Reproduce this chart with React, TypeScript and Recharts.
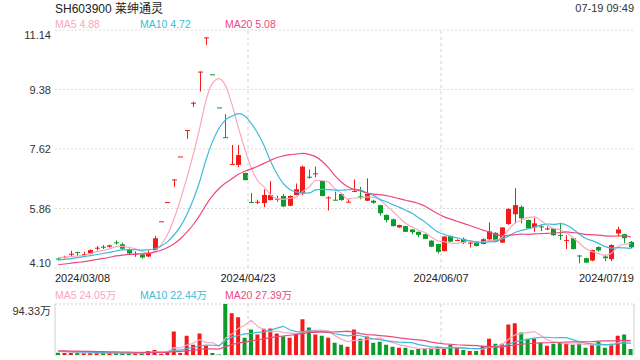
import React from 'react';
import {
  ComposedChart,
  Bar,
  Line,
  XAxis,
  YAxis,
  CartesianGrid,
  ReferenceLine,
  ReferenceArea,
  Cell,
} from 'recharts';

// trading days shown on the chart, by month
const marchDays = [8, 11, 12, 13, 14, 15, 18, 19, 20, 21, 22, 25, 26, 27, 28, 29];
const aprilDays = [1, 2, 3, 8, 9, 10, 11, 12, 15, 16, 17, 18, 19, 22, 23, 24, 25, 26, 29, 30];
const mayDays = [6, 7, 8, 9, 10, 13, 14, 15, 16, 17, 20, 21, 22, 23, 24, 27, 28, 29, 30, 31];
const juneDays = [3, 4, 5, 6, 7, 11, 12, 13, 14, 17, 18, 19, 20, 21, 24, 25, 26, 27, 28];
const julyDays = [1, 2, 3, 4, 5, 8, 9, 10, 11, 12, 15, 16, 17, 18, 19];

const openPrices = [
  4.38, 4.41, 4.5, 4.57, 4.49, 4.53, 4.68, 4.73, 4.73, 4.86,
  4.8, 4.66, 4.5, 4.5, 4.44, 4.63, 5.48, 6.05, 6.7, 7.4,
  8.16, 8.97, 9.89, 10.9, 9.83, 8.85, 7.97, 7.16, 7.15, 6.91,
  6.05, 6.04, 6.02, 6.11, 6.13, 6.23, 5.94, 6.26, 6.31, 6.8,
  6.88, 6.67, 6.18, 6.12, 6.29, 6.05, 6.36, 6.22, 6.09, 6.09,
  5.96, 5.67, 5.54, 5.3, 5.34, 5.24, 5.17, 5.1, 4.91, 4.81,
  4.6, 5.05, 4.92, 4.96, 4.84, 4.88, 4.81, 4.95, 5.14, 4.85,
  5.4, 5.69, 5.91, 5.52, 5.3, 5.33, 5.26, 5.27, 5.08, 4.92,
  4.98, 4.47, 4.39, 4.32, 4.72, 4.44, 4.36, 5.12, 5.1, 4.87,
];
const highPrices = [
  4.4, 4.46, 4.61, 4.58, 4.58, 4.65, 4.75, 4.78, 4.79, 4.92,
  4.85, 4.68, 4.59, 4.53, 4.62, 5.05, 5.48, 6.05, 6.72, 7.4,
  8.18, 9.02, 9.91, 10.92, 9.83, 8.85, 8.65, 7.74, 7.74, 6.92,
  6.32, 6.12, 6.43, 6.67, 6.24, 6.29, 6.25, 6.6, 7.13, 7.02,
  7.1, 6.68, 6.22, 6.36, 6.31, 6.15, 6.72, 6.5, 6.75, 6.12,
  5.97, 5.68, 5.56, 5.38, 5.35, 5.25, 5.18, 5.11, 4.92, 4.82,
  5.04, 5.06, 4.95, 5.0, 4.88, 4.89, 4.98, 5.45, 5.16, 5.31,
  5.86, 6.46, 5.95, 5.53, 5.59, 5.37, 5.33, 5.28, 5.44, 5.07,
  4.99, 4.48, 4.4, 4.64, 4.74, 4.5, 4.8, 5.32, 5.11, 4.9,
];
const lowPrices = [
  4.33, 4.38, 4.43, 4.45, 4.42, 4.5, 4.62, 4.66, 4.7, 4.79,
  4.64, 4.5, 4.43, 4.38, 4.42, 4.6, 5.48, 6.05, 6.5, 7.4,
  7.92, 8.86, 9.32, 10.7, 9.83, 8.85, 7.96, 7.16, 7.08, 6.69,
  6.03, 5.99, 5.9, 6.1, 6.06, 5.9, 5.93, 6.25, 6.26, 6.74,
  6.78, 6.22, 5.8, 6.1, 6.09, 6.05, 6.35, 6.13, 6.08, 6.0,
  5.65, 5.45, 5.33, 5.29, 5.16, 5.1, 5.01, 4.95, 4.72, 4.53,
  4.59, 4.87, 4.9, 4.81, 4.71, 4.74, 4.8, 4.93, 4.86, 4.84,
  5.38, 5.42, 5.42, 5.25, 5.17, 5.19, 5.22, 5.05, 4.93, 4.66,
  4.65, 4.24, 4.25, 4.3, 4.58, 4.3, 4.3, 5.03, 4.83, 4.68,
];
const closePrices = [
  4.35, 4.43, 4.52, 4.55, 4.51, 4.63, 4.7, 4.72, 4.77, 4.85,
  4.67, 4.53, 4.52, 4.41, 4.55, 4.98, 5.48, 6.05, 6.72, 7.4,
  8.18, 8.99, 9.91, 10.92, 9.83, 8.85, 7.96, 7.18, 7.44, 6.7,
  6.03, 6.06, 6.26, 6.26, 6.15, 5.92, 6.23, 6.43, 7.1, 6.78,
  6.9, 6.23, 6.19, 6.11, 6.11, 6.06, 6.38, 6.19, 6.29, 6.03,
  5.72, 5.52, 5.34, 5.37, 5.17, 5.16, 5.08, 4.96, 4.73, 4.58,
  5.03, 4.88, 4.93, 4.85, 4.85, 4.75, 4.95, 5.18, 4.88, 5.3,
  5.85, 5.96, 5.57, 5.27, 5.42, 5.32, 5.27, 5.07, 5.07, 4.93,
  4.66, 4.46, 4.26, 4.63, 4.62, 4.39, 4.78, 5.24, 4.98, 4.71,
];
// volume in 万
const volumes = [
  4.0, 3.6, 3.9, 3.5, 3.8, 4.2, 3.7, 3.9, 4.1, 3.6,
  4.3, 3.8, 4.0, 3.9, 7.5, 9.4, 2.5, 6.3, 43.4, 3.8,
  35.8, 18.9, 39.6, 17.0, 3.8, 0.8, 94.33, 77.3, 69.8, 32.1,
  47.2, 37.7, 48.4, 49.1, 39.6, 34.6, 32.1, 40.9, 66.0, 51.0,
  37.7, 35.8, 32.1, 22.6, 18.9, 15.1, 47.2, 30.2, 34.0, 22.6,
  24.5, 18.9, 15.1, 13.2, 13.2, 9.4, 11.3, 11.3, 13.2, 15.1,
  11.3, 18.9, 13.2, 9.4, 7.5, 7.5, 17.0, 30.2, 20.8, 20.8,
  56.6, 58.5, 41.5, 30.2, 30.2, 22.6, 17.0, 20.8, 22.6, 20.8,
  18.9, 20.8, 13.2, 18.9, 24.5, 13.2, 20.8, 35.8, 37.7, 11.3,
];
// sessions before the visible window (only feed the moving averages)
const priorCloses = [3.98, 4.02, 4.05, 4.08, 4.03, 4.06, 4.1, 4.07, 4.09, 4.12, 4.22, 4.25, 4.28, 4.24, 4.3, 4.38, 4.42, 4.45, 4.43];
const priorVolumes = [9.5, 8.8, 10.2, 7.9, 8.4, 9.1, 7.6, 8.2, 9.0, 7.4, 8.1, 7.7, 8.6, 7.2, 7.9, 6.8, 7.5, 6.9, 7.3];

const priceTicks = [4.1, 5.86, 7.62, 9.38, 11.14];
const volumeTicks = [0, 94.33];
const dividerDates = ['2024/04/23', '2024/06/07'];
const title = 'SH603900 莱绅通灵';
const stamp = '07-19 09:49';
const priceLegend = ['MA5 4.88', 'MA10 4.72', 'MA20 5.08'];
const volumeLegend = ['MA5 24.05万', 'MA10 22.44万', 'MA20 27.39万'];

const RED = '#f31a1a';
const GREEN = '#0a9b2a';
const MA_COLORS = ['#fba6bf', '#3cbcda', '#ec4a7e'];
const FONT = '"Liberation Sans", Arial, "Noto Sans CJK SC", sans-serif';
const PLOT_LEFT = 55;
const PLOT_RIGHT = 634;

const pad = (n: number) => (n < 10 ? '0' + n : String(n));
const dates = [
  ...marchDays.map((d) => `2024/03/${pad(d)}`),
  ...aprilDays.map((d) => `2024/04/${pad(d)}`),
  ...mayDays.map((d) => `2024/05/${pad(d)}`),
  ...juneDays.map((d) => `2024/06/${pad(d)}`),
  ...julyDays.map((d) => `2024/07/${pad(d)}`),
];
const shownDates = [dates[0], ...dividerDates, dates[dates.length - 1]];
const BAND = (PLOT_RIGHT - PLOT_LEFT) / dates.length;

const movingAvg = (history: number[], series: number[], n: number) => {
  const all = [...history, ...series];
  return series.map((_, i) => {
    const end = history.length + i + 1;
    const win = all.slice(Math.max(0, end - n), end);
    return win.reduce((a, b) => a + b, 0) / win.length;
  });
};

const ma5 = movingAvg(priorCloses, closePrices, 5);
const ma10 = movingAvg(priorCloses, closePrices, 10);
const ma20 = movingAvg(priorCloses, closePrices, 20);
const vma5 = movingAvg(priorVolumes, volumes, 5);
const vma10 = movingAvg(priorVolumes, volumes, 10);
const vma20 = movingAvg(priorVolumes, volumes, 20);

const rows = dates.map((date, i) => {
  const open = openPrices[i];
  const close = closePrices[i];
  const prev = i > 0 ? closePrices[i - 1] : priorCloses[priorCloses.length - 1];
  const up = close > open || (close === open && close >= prev);
  return {
    date, open, close, high: highPrices[i], low: lowPrices[i], volume: volumes[i], up,
    ma5: ma5[i], ma10: ma10[i], ma20: ma20[i],
    vma5: vma5[i], vma10: vma10[i], vma20: vma20[i],
  };
});

const PRICE_MIN = priceTicks[0];
const PRICE_MAX = priceTicks[priceTicks.length - 1];

const Candle = (props: any) => {
  const { x, y, width, height, payload } = props;
  if (!payload || height == null) return <g />;
  const { open, close, high, low, up } = payload;
  const k = height / (high - PRICE_MIN);
  const py = (v: number) => y + (high - v) * k;
  const color = up ? RED : GREEN;
  const cx = Math.floor(x + width / 2) + 0.5;
  const top = py(Math.max(open, close));
  const h = Math.max(1, py(Math.min(open, close)) - top);
  return (
    <g>
      <line x1={cx} x2={cx} y1={py(high)} y2={py(low)} stroke={color} strokeWidth={1} />
      <rect x={Math.round(cx - width / 2)} y={top} width={width} height={h} fill={color} />
    </g>
  );
};

const PriceTick = (props: any) => {
  const { x, y, payload, index } = props;
  const dy = index === 0 ? -5 : index === priceTicks.length - 1 ? 5 : 0;
  return (
    <text x={x} y={y + dy} textAnchor="end" dominantBaseline="central" fontSize={11} fill="#333" fontFamily={FONT}>
      {Number(payload.value).toFixed(2)}
    </text>
  );
};

const VolumeTick = (props: any) => {
  const { x, y, payload } = props;
  const isTop = payload.value > 0;
  return (
    <text x={x} y={y + (isTop ? 7 : -7)} textAnchor="end" dominantBaseline="central" fontSize={11} fill="#333" fontFamily={FONT}>
      {isTop ? `${payload.value}万` : '0'}
    </text>
  );
};

const DateTick = (props: any) => {
  const { x, y, payload } = props;
  const value = payload?.value;
  const idx = shownDates.indexOf(value);
  if (idx < 0) return <g />;
  const start = x - BAND / 2;
  let tx = start;
  let anchor: 'start' | 'middle' | 'end' = 'middle';
  if (idx === 0) anchor = 'start';
  if (idx === shownDates.length - 1) {
    anchor = 'end';
    tx = x + BAND / 2;
  }
  return (
    <text x={tx} y={y + 10} textAnchor={anchor} dominantBaseline="central" fontSize={11} fill="#222" fontFamily={FONT}>
      {value}
    </text>
  );
};

const legendX = [55, 140, 225];

export default function App() {
  return (
    <div style={{ position: 'absolute', left: 0, top: 0, width: 640, height: 360, background: '#fff', fontFamily: FONT }}>
      <div style={{ position: 'absolute', left: 0, top: 0 }}>
        <ComposedChart width={640} height={290} data={rows} margin={{ top: 30, right: 640 - PLOT_RIGHT, bottom: 0, left: 0 }} barSize={5}>
          <CartesianGrid vertical={false} stroke="#dcdcdc" strokeDasharray="2 2" />
          <XAxis dataKey="date" interval={0} axisLine={false} tickLine={false} tickSize={0} tickMargin={0} height={22} tick={<DateTick />} />
          <YAxis
            domain={[PRICE_MIN, PRICE_MAX]}
            ticks={priceTicks}
            allowDataOverflow
            width={PLOT_LEFT}
            axisLine={false}
            tickLine={false}
            tickSize={0}
            tickMargin={4}
            tick={<PriceTick />}
          />
          <ReferenceArea fill="none" stroke="#cfcfcf" strokeWidth={1} />
          {dividerDates.map((d) => (
            <ReferenceLine key={d} x={d} position="start" stroke="#cfcfcf" strokeDasharray="3 3" />
          ))}
          <Bar dataKey={(d: any) => [PRICE_MIN, d.high]} shape={(p: any) => <Candle {...p} />} isAnimationActive={false} />
          <Line type="monotone" dataKey="ma5" stroke={MA_COLORS[0]} strokeWidth={1.2} dot={false} isAnimationActive={false} />
          <Line type="monotone" dataKey="ma10" stroke={MA_COLORS[1]} strokeWidth={1.2} dot={false} isAnimationActive={false} />
          <Line type="monotone" dataKey="ma20" stroke={MA_COLORS[2]} strokeWidth={1.2} dot={false} isAnimationActive={false} />
        </ComposedChart>
      </div>

      <div style={{ position: 'absolute', left: 0, top: 290 }}>
        <ComposedChart width={640} height={70} data={rows} margin={{ top: 14, right: 640 - PLOT_RIGHT, bottom: 5, left: 0 }}>
          <CartesianGrid vertical={false} stroke="#cfcfcf" strokeDasharray="2 2" />
          <XAxis dataKey="date" hide />
          <YAxis
            domain={[0, volumeTicks[1]]}
            ticks={volumeTicks}
            allowDataOverflow
            width={PLOT_LEFT}
            axisLine={false}
            tickLine={false}
            tickSize={0}
            tickMargin={4}
            tick={<VolumeTick />}
          />
          <ReferenceLine x={dates[0]} position="start" stroke="#cfcfcf" />
          <ReferenceLine x={dates[dates.length - 1]} position="end" stroke="#cfcfcf" />
          {dividerDates.map((d) => (
            <ReferenceLine key={d} x={d} position="start" stroke="#cfcfcf" strokeDasharray="3 3" />
          ))}
          <Bar dataKey="volume" barSize={4} isAnimationActive={false}>
            {rows.map((r, i) => (
              <Cell key={i} fill={r.up ? RED : GREEN} />
            ))}
          </Bar>
          <Line type="linear" dataKey="vma5" stroke={MA_COLORS[0]} strokeWidth={1.2} dot={false} isAnimationActive={false} />
          <Line type="linear" dataKey="vma10" stroke={MA_COLORS[1]} strokeWidth={1.2} dot={false} isAnimationActive={false} />
          <Line type="linear" dataKey="vma20" stroke={MA_COLORS[2]} strokeWidth={1.2} dot={false} isAnimationActive={false} />
        </ComposedChart>
      </div>

      <svg width={640} height={360} style={{ position: 'absolute', left: 0, top: 0, pointerEvents: 'none' }}>
        <text x={55} y={9} dominantBaseline="central" fontSize={12} fill="#222" fontFamily={FONT}>{title}</text>
        <text x={PLOT_RIGHT} y={8} textAnchor="end" dominantBaseline="central" fontSize={11} fill="#333" fontFamily={FONT}>{stamp}</text>
        {priceLegend.map((t, i) => (
          <text key={t} x={legendX[i]} y={23.5} dominantBaseline="central" fontSize={10.5} fill={MA_COLORS[i]} fontFamily={FONT}>{t}</text>
        ))}
        {volumeLegend.map((t, i) => (
          <text key={t} x={legendX[i]} y={295} dominantBaseline="central" fontSize={10.5} fill={MA_COLORS[i]} fontFamily={FONT}>{t}</text>
        ))}
      </svg>
    </div>
  );
}
